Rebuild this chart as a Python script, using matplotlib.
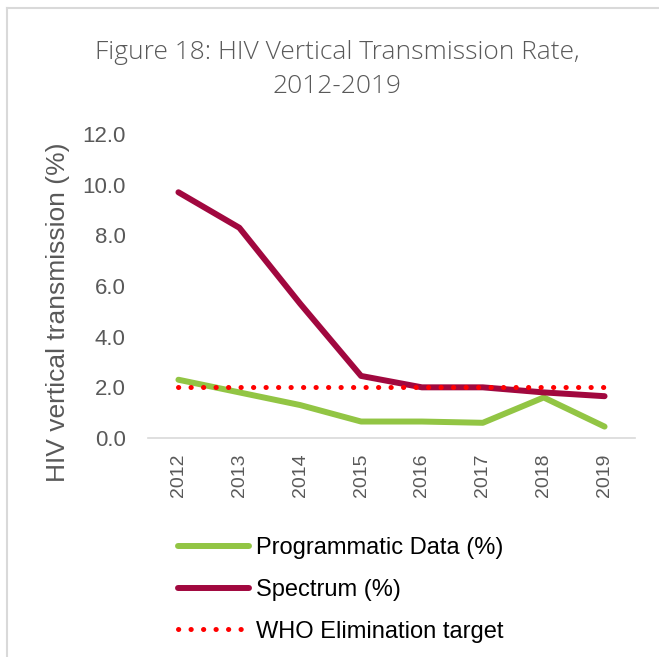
import matplotlib
matplotlib.use("Agg")
from matplotlib import pyplot as plt
from matplotlib.lines import Line2D

years = ["2012", "2013", "2014", "2015", "2016", "2017", "2018", "2019"]

# vertical transmission rates (%)
programmatic = [2.3, 1.8, 1.3, 0.65, 0.65, 0.6, 1.6, 0.45]
spectrum = [9.7, 8.3, 5.3, 2.45, 2.0, 2.0, 1.8, 1.65]
who_target = [2.0, 2.0, 2.0, 2.0, 2.0, 2.0, 2.0, 2.0]

grey = "#595959"
plt.rcParams["font.family"] = ["Liberation Sans", "DejaVu Sans"]

fig = plt.figure(figsize=(6.59, 6.57), dpi=100)
W, H = 659, 657

# light frame around the chart (only top and left visible in the crop)
fig.add_artist(Line2D([7 / W, 1], [1 - 8 / H, 1 - 8 / H], color="#D9D9D9", lw=1.5))
fig.add_artist(Line2D([7 / W, 7 / W], [0, 1 - 8 / H], color="#D9D9D9", lw=1.5))

ax = fig.add_axes([148 / W, 1 - 438 / H, 487 / W, 304 / H])
x_values = range(len(years))

ax.plot(x_values, programmatic, color="#92C544", lw=4.3, solid_capstyle="round",
        label="Programmatic Data (%)")
ax.plot(x_values, spectrum, color="#A1083F", lw=4.3, solid_capstyle="round",
        label="Spectrum (%)")
ax.plot(x_values, who_target, color="#FF0000", lw=3.6, linestyle=(0, (0.05, 2.45)),
        dash_capstyle="round", label="WHO Elimination target")

ax.set_xlim(-0.5, len(years) - 0.5)
ax.set_ylim(0, 12)
ax.set_yticks([0, 2, 4, 6, 8, 10, 12])
ax.set_yticklabels(["0.0", "2.0", "4.0", "6.0", "8.0", "10.0", "12.0"])
ax.set_xticks(list(x_values))
ax.set_xticklabels(years, rotation=90)

for s in ["top", "right", "left"]:
    ax.spines[s].set_visible(False)
ax.spines["bottom"].set_color("#D9D9D9")
ax.spines["bottom"].set_linewidth(1.2)
ax.tick_params(axis="y", length=0, pad=16, labelsize=16, labelcolor=grey)
ax.tick_params(axis="x", length=0, pad=11, labelsize=14, labelcolor=grey)

ax.set_ylabel("HIV vertical transmission (%)", fontsize=19, color=grey)
ax.yaxis.set_label_coords(-0.160, 0.414)

# title, two lines placed by baseline
fig.text(337 / W, 1 - 59 / H, "Figure 18: HIV Vertical Transmission Rate,",
         ha="center", va="baseline", fontsize=19, color=grey, family="Open Sans",
         fontweight="light")
fig.text(337 / W, 1 - 93 / H, "2012-2019",
         ha="center", va="baseline", fontsize=19, color=grey, family="Open Sans",
         fontweight="light")

fig.legend(loc="center left", bbox_to_anchor=(178 / W, 1 - 590 / H), frameon=False,
           fontsize=17, handlelength=3.0, handletextpad=0.3, labelspacing=0.83,
           borderpad=0, borderaxespad=0, labelcolor="black")

plt.savefig("out.png", dpi=100)
